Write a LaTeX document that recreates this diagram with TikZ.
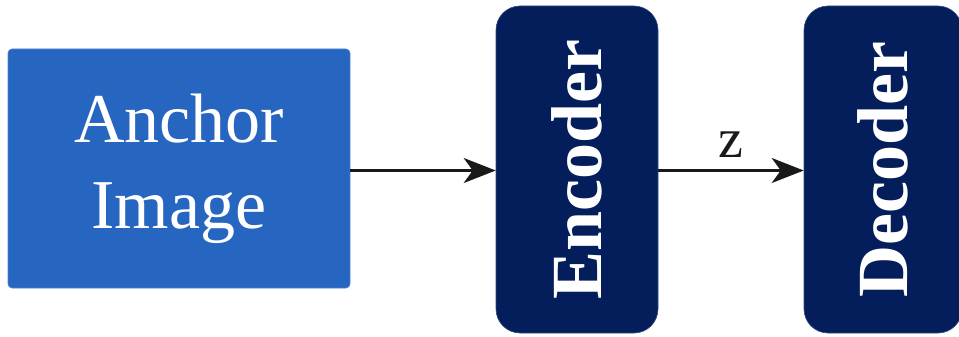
\documentclass[tikz,border=0pt]{standalone}
\usepackage{fontspec}
\setmainfont{Liberation Serif}
\usetikzlibrary{arrows.meta}
\definecolor{anchorblue}{RGB}{38,101,192}
\definecolor{navy}{RGB}{4,30,92}
\tikzset{
  imgbox/.style={fill=anchorblue, draw=anchorblue!80!white, line width=0.6pt, rounded corners=4pt,
    minimum width=342pt, minimum height=239pt, text=white, align=center,
    font=\fontsize{70}{86}\selectfont, inner sep=0pt},
  netbox/.style={fill=navy, draw=navy!80!white, line width=0.6pt, rounded corners=24pt, rotate=90,
    minimum width=327pt, minimum height=162pt, text=white,
    font=\fontsize{72}{80}\selectfont\bfseries, inner sep=0pt},
  flow/.style={line width=2.4pt, -{Stealth[length=32pt,width=25pt,inset=9pt]}, black!90}
}
\begin{document}
\begin{tikzpicture}[x=1pt,y=-1pt]
\useasboundingbox (0,0) rectangle (959,337);
\node[imgbox] (img) at (179,168.5) {Anchor\\Image};
\node[netbox] (enc) at (577,169.5) {Encoder};
\node[netbox, minimum height=158pt] (dec) at (883,169.5) {Decoder};
\draw[flow] (img.east |- 0,170.5) -- (enc.north |- 0,170.5);
\draw[flow] (enc.south |- 0,170.5) -- node[above=8pt, font=\fontsize{56}{60}\selectfont] (zlab) {z} (dec.north |- 0,170.5);
\end{tikzpicture}
\end{document}
